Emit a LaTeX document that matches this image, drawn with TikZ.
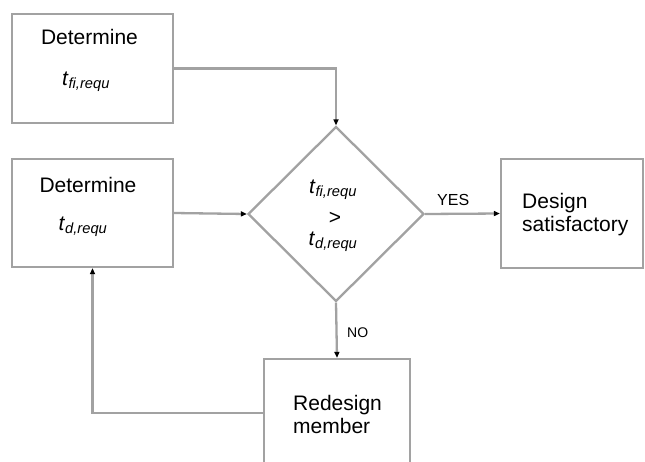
\documentclass[tikz,border=0pt]{standalone}
\usepackage{fontspec}
\setmainfont{Liberation Sans}
\usetikzlibrary{arrows.meta,shapes.geometric}
\definecolor{linegray}{RGB}{162,162,162}
\tikzset{
  boxshape/.style={draw=linegray, line width=2.3pt, rectangle, inner sep=0pt},
  diashape/.style={draw=linegray, line width=2.3pt, diamond, inner sep=0pt},
  conn/.style={draw=linegray, line width=2.3pt},
  arr/.style={conn, -{Triangle[length=6pt,width=5pt,color=black]}},
  txt/.style={anchor=base, inner sep=0pt, font=\fontsize{21}{23}\selectfont},
  lbl/.style={anchor=base west, inner sep=0pt},
}
\newcommand{\tsub}[1]{\textit{t}\textsubscript{\textit{#1}}}
\begin{document}
\begin{tikzpicture}[x=1pt,y=-1pt]
\useasboundingbox (0,0) rectangle (645,461);
\clip (0,0) rectangle (645,461);
\fill[white] (0,0) rectangle (645,461);
% shapes
\node[boxshape, minimum width=161pt, minimum height=109pt] (b1) at (92.5,68.5) {};
\node[boxshape, minimum width=161pt, minimum height=108pt] (b2) at (92.5,213) {};
\node[diashape, minimum width=176pt, minimum height=175pt] (dia) at (336,214) {};
\node[boxshape, minimum width=142pt, minimum height=109pt] (b3) at (572,213.5) {};
\node[boxshape, minimum width=146pt, minimum height=108pt] (b4) at (337,413) {};
% texts
\node[txt] (t1a) at (89.5,44) {Determine};
\node[txt] (t1b) at (86,85) {\tsub{fi,requ}};
\node[txt] (t2a) at (88,192) {Determine};
\node[txt] (t2b) at (83,230) {\tsub{d,requ}};
\node[txt] (tda) at (333,193) {\tsub{fi,requ}};
\node[txt] (tdb) at (335,224) {>};
\node[txt] (tdc) at (333,245) {\tsub{d,requ}};
\node[txt, anchor=base west] (t3a) at (522,208) {Design};
\node[txt, anchor=base west] (t3b) at (522,231) {satisfactory};
\node[txt, anchor=base west] (t4a) at (293,410) {Redesign};
\node[txt, anchor=base west] (t4b) at (293,433) {member};
\node[lbl, font=\fontsize{16}{18}\selectfont] (yes) at (437,205) {YES};
\node[lbl, font=\fontsize{14}{16}\selectfont] (no) at (347,337) {NO};
% connectors
\draw[arr] (b1.east) -| (dia.north);
\draw[arr] (b2.east) -- (dia.west);
\draw[arr] (dia.east) -- (b3.west);
\draw[arr] (dia.south) -- (b4.north);
\draw[arr] (b4.west) -| (b2.south);
\end{tikzpicture}
\end{document}
